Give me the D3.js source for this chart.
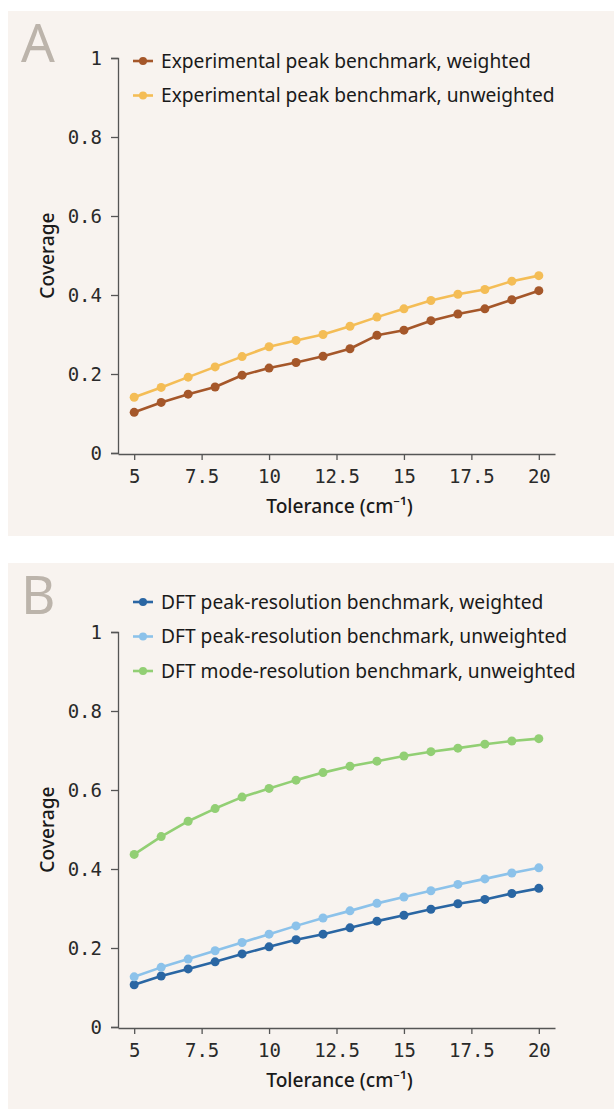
<!DOCTYPE html>
<html>
<head>
<meta charset="utf-8">
<script src="https://cdn.jsdelivr.net/npm/d3@7"></script>
<style>
  html, body { margin: 0; padding: 0; background: #ffffff; }
  svg { display: block; }
  .tick text { font-family: "DejaVu Sans Mono", monospace; font-size: 19px; fill: #2a2a2a; }
  .axis path, .axis line { stroke: #555; stroke-width: 1.3; }
  .legend text { font-family: "Noto Sans", "Open Sans", sans-serif; font-size: 19.2px; fill: #1a1a1a; }
  .title { font-family: "Noto Sans", "Open Sans", sans-serif; font-size: 19.2px; font-weight: 500; fill: #1a1a1a; }
  .letter { font-family: "Noto Sans", "Open Sans", sans-serif; font-size: 53px; font-weight: 400; fill: #bcb4ab; }
</style>
</head>
<body>
<svg id="chart" width="614" height="1109"></svg>
<script>
// Tolerance values (cm^-1) shared by all series
const tolerance = [5, 6, 7, 8, 9, 10, 11, 12, 13, 14, 15, 16, 17, 18, 19, 20];

// Panel A: experimental peak benchmark coverage
const expWeighted   = [0.103, 0.128, 0.149, 0.167, 0.197, 0.215, 0.229, 0.245, 0.264, 0.298, 0.311, 0.335, 0.352, 0.365, 0.388, 0.411];
const expUnweighted = [0.141, 0.166, 0.192, 0.218, 0.244, 0.269, 0.285, 0.300, 0.321, 0.344, 0.365, 0.386, 0.402, 0.414, 0.435, 0.449];

// Panel B: DFT benchmark coverage
const dftPeakWeighted   = [0.107, 0.129, 0.147, 0.165, 0.185, 0.203, 0.221, 0.235, 0.251, 0.268, 0.283, 0.298, 0.312, 0.323, 0.338, 0.351];
const dftPeakUnweighted = [0.127, 0.151, 0.172, 0.193, 0.214, 0.235, 0.256, 0.276, 0.294, 0.313, 0.329, 0.345, 0.361, 0.375, 0.390, 0.403];
const dftModeUnweighted = [0.437, 0.482, 0.521, 0.553, 0.582, 0.604, 0.625, 0.644, 0.660, 0.673, 0.686, 0.697, 0.706, 0.716, 0.724, 0.730];

const xTicks = [5, 7.5, 10, 12.5, 15, 17.5, 20];
const yTicks = [0, 0.2, 0.4, 0.6, 0.8, 1];
const xTitle = "Tolerance (cm\u207B\u00B9)";
const yTitle = "Coverage";

const panels = [
  {
    letter: "A", top: 11, height: 525, plotTop: 58, plotBottom: 453, legendTop: 61,
    series: [
      { name: "Experimental peak benchmark, weighted",   values: expWeighted,   color: "#a5572a" },
      { name: "Experimental peak benchmark, unweighted", values: expUnweighted, color: "#f4bd56" }
    ]
  },
  {
    letter: "B", top: 563, height: 546, plotTop: 632, plotBottom: 1027, legendTop: 602,
    series: [
      { name: "DFT peak-resolution benchmark, weighted",   values: dftPeakWeighted,   color: "#2a66a3" },
      { name: "DFT peak-resolution benchmark, unweighted", values: dftPeakUnweighted, color: "#8cc2ea" },
      { name: "DFT mode-resolution benchmark, unweighted", values: dftModeUnweighted, color: "#92cf74" }
    ]
  }
];

const svg = d3.select("#chart");
const left = 118, right = 555;

const x = d3.scaleLinear().domain([4.4, 20.6]).range([left, right]);

panels.forEach(p => {
  const g = svg.append("g");

  g.append("rect")
    .attr("x", 8).attr("y", p.top)
    .attr("width", 614 - 8).attr("height", p.height)
    .attr("fill", "#f8f3ef");

  g.append("text").attr("class", "letter")
    .attr("x", 21).attr("y", p.top + 51)
    .text(p.letter);

  const y = d3.scaleLinear().domain([0, 1]).range([p.plotBottom, p.plotTop]);

  // x axis
  g.append("g").attr("class", "axis")
    .attr("transform", `translate(0,${p.plotBottom + 1})`)
    .call(d3.axisBottom(x).tickValues(xTicks).tickSize(6).tickSizeOuter(0).tickPadding(10)
      .tickFormat(d => String(d)));

  // y axis
  g.append("g").attr("class", "axis")
    .attr("transform", `translate(${left},0)`)
    .call(d3.axisLeft(y).tickValues(yTicks).tickSize(7).tickSizeOuter(7).tickPadding(9)
      .tickFormat(d => String(d)));

  g.append("text").attr("class", "title")
    .attr("x", (x(5) + x(20)) / 2 + 3).attr("y", p.plotBottom + 60)
    .attr("text-anchor", "middle")
    .text(xTitle);

  g.append("text").attr("class", "title")
    .attr("transform", `translate(54,${(p.plotTop + p.plotBottom) / 2}) rotate(-90)`)
    .attr("text-anchor", "middle")
    .text(yTitle);

  const line = d3.line().x((d, i) => x(tolerance[i])).y(d => y(d));

  p.series.forEach(s => {
    g.append("path")
      .attr("d", line(s.values))
      .attr("fill", "none")
      .attr("stroke", s.color)
      .attr("stroke-width", 2.6)
      .attr("stroke-linejoin", "round");
    g.selectAll(null).data(s.values).enter().append("circle")
      .attr("cx", (d, i) => x(tolerance[i]))
      .attr("cy", d => y(d))
      .attr("r", 4.5)
      .attr("fill", s.color);
  });

  // legend
  const lg = g.append("g").attr("class", "legend");
  p.series.forEach((s, i) => {
    const ly = p.legendTop + i * 34.5;
    lg.append("line")
      .attr("x1", 133).attr("x2", 153).attr("y1", ly).attr("y2", ly)
      .attr("stroke", s.color).attr("stroke-width", 2.6);
    lg.append("circle").attr("cx", 143).attr("cy", ly).attr("r", 4).attr("fill", s.color);
    lg.append("text").attr("x", 161).attr("y", ly).attr("dy", "0.35em").text(s.name);
  });
});
</script>
</body>
</html>
